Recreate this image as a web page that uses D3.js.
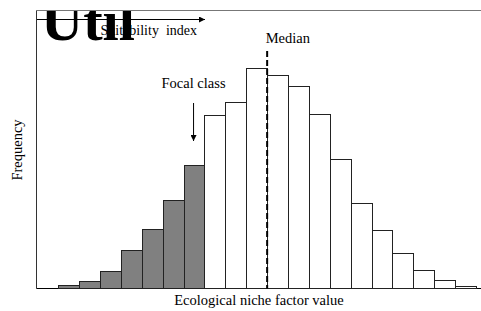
<!DOCTYPE html>
<html>
<head>
<meta charset="utf-8">
<script src="https://cdn.jsdelivr.net/npm/d3@7"></script>
<style>
  body { margin: 0; background: #fff; }
  text { font-family: "Liberation Serif", "Times New Roman", serif; fill: #000; }
</style>
</head>
<body>
<script>
(function() {

    // histogram classes of the ecological niche factor (bin index) and their frequency
    var bins = d3.range(20);
    var freq = [4, 7, 18, 39, 60, 89, 124, 174, 187, 221, 214, 203, 175, 130, 86, 58, 36, 19, 9, 3];
    var focalClass = 6;   // classes 0..6 are shaded, arrow points at 6
    var medianEdge = 10;  // median sits at the edge between class 9 and 10

    var W = 481, H = 311;

    var svg = d3.select('body').append('svg')
        .attr('width', W)
        .attr('height', H);

    var x = d3.scaleLinear().domain([0, 20]).range([58.3, 476]);
    var y = d3.scaleLinear().domain([0, 280]).range([288.5, 8.5]);

    // frame: top line (grey), y axis, baseline
    svg.append('line')
        .attr('x1', 36.5).attr('x2', W).attr('y1', 10.5).attr('y2', 10.5)
        .attr('stroke', '#777');
    svg.append('line')
        .attr('x1', 36.5).attr('x2', 36.5).attr('y1', 10.5).attr('y2', y(0))
        .attr('stroke', '#333');
    svg.append('line')
        .attr('x1', 36.5).attr('x2', W).attr('y1', y(0)).attr('y2', y(0))
        .attr('stroke', '#000');

    // bars
    svg.selectAll('rect.bar')
        .data(bins)
        .enter().append('rect')
        .attr('class', 'bar')
        .attr('x', function(d) { return Math.round(x(d)) + 0.5; })
        .attr('width', function(d) { return Math.round(x(d + 1)) - Math.round(x(d)); })
        .attr('y', function(d) { return Math.round(y(freq[d])) + 0.5; })
        .attr('height', function(d) { return y(0) - Math.round(y(freq[d])) - 0.5; })
        .attr('fill', function(d) { return d <= focalClass ? '#808080' : '#fff'; })
        .attr('stroke', '#222')
        .attr('stroke-width', 1);

    // median line
    svg.append('line')
        .attr('x1', x(medianEdge)).attr('x2', x(medianEdge))
        .attr('y1', 51).attr('y2', y(0))
        .attr('stroke', '#000')
        .attr('stroke-width', 2)
        .attr('stroke-dasharray', '6,3');
    svg.append('text')
        .attr('x', x(medianEdge) - 1.5).attr('y', 43)
        .style('font-size', '14.5px')
        .text('Median');

    // focal class label + arrow
    var defs = svg.append('defs');
    defs.append('marker')
        .attr('id', 'head')
        .attr('viewBox', '0 0 10 10')
        .attr('refX', 10).attr('refY', 5)
        .attr('markerWidth', 8).attr('markerHeight', 6)
        .attr('markerUnits', 'userSpaceOnUse')
        .attr('orient', 'auto')
        .append('path').attr('d', 'M0,0L10,5L0,10z').attr('fill', '#000');
    defs.append('clipPath').attr('id', 'topclip')
        .append('rect').attr('x', 0).attr('y', 11).attr('width', W).attr('height', H);

    var fx = (x(focalClass) + x(focalClass + 1)) / 2 - 0.5;
    svg.append('text')
        .attr('x', fx).attr('y', 88)
        .attr('text-anchor', 'middle')
        .style('font-size', '14.5px')
        .text('Focal class');
    svg.append('line')
        .attr('x1', fx).attr('x2', fx).attr('y1', 103).attr('y2', 141)
        .attr('stroke', '#000')
        .attr('marker-end', 'url(#head)');

    // suitability index arrow + overlapping heading
    svg.append('text')
        .attr('x', 197).attr('y', 35)
        .attr('text-anchor', 'end')
        .style('font-size', '14px')
        .attr('xml:space', 'preserve')
        .text('Suitability  index');
    svg.append('text')
        .attr('x', 41).attr('y', 40)
        .attr('clip-path', 'url(#topclip)')
        .style('font-size', '56px')
        .style('font-weight', 'bold')
        .attr('textLength', 94)
        .attr('lengthAdjust', 'spacingAndGlyphs')
        .text('Util');
    svg.append('line')
        .attr('x1', 37).attr('x2', 205).attr('y1', 19.5).attr('y2', 19.5)
        .attr('stroke', '#000')
        .attr('marker-end', 'url(#head)');

    // axis titles
    svg.append('text')
        .attr('x', 259).attr('y', 305)
        .attr('text-anchor', 'middle')
        .style('font-size', '14.5px')
        .text('Ecological niche factor value');
    svg.append('text')
        .attr('transform', 'translate(22,150) rotate(-90)')
        .attr('text-anchor', 'middle')
        .style('font-size', '14.5px')
        .text('Frequency');

})();
</script>
</body>
</html>
